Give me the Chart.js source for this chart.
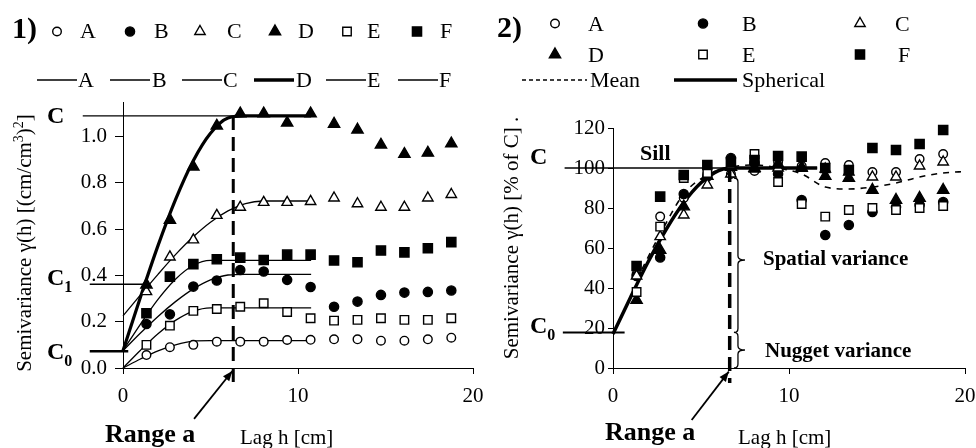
<!DOCTYPE html>
<html>
<head>
<meta charset="utf-8">
<script src="https://cdn.jsdelivr.net/npm/chart.js@4.4.1/dist/chart.umd.min.js"></script>
<style>
  html, body { margin: 0; padding: 0; background: #fff; }
  #wrap { position: relative; width: 976px; height: 448px; overflow: hidden;
          font-family: "Liberation Serif", "Times New Roman", serif; color: #000; }
  .box { position: absolute; top: 0; height: 448px; }
  .t { position: absolute; white-space: nowrap; line-height: 1; transform: translateY(-50%); font-size: 22px; }
  .b { font-weight: bold; }
  .rot { position: absolute; white-space: nowrap; line-height: 1; font-size: 21px;
         transform: translate(-50%, -50%) rotate(-90deg); }
  .sub { font-size: 16px; position: relative; top: 7px; }
  .sup { font-size: 14px; position: relative; top: -8px; }
</style>
</head>
<body>
<div id="wrap">
  <div class="box" style="left:0;width:500px"><canvas id="c1" width="500" height="448"></canvas></div>
  <div class="box" style="left:480px;width:496px"><canvas id="c2" width="496" height="448"></canvas></div>

  <!-- panel 1 texts -->
  <div class="t b" style="left:12px;top:28px;font-size:30px">1)</div>
  <div class="t" style="left:80px;top:31px">A</div>
  <div class="t" style="left:154px;top:31px">B</div>
  <div class="t" style="left:227px;top:31px">C</div>
  <div class="t" style="left:298px;top:31px">D</div>
  <div class="t" style="left:367px;top:31px">E</div>
  <div class="t" style="left:440px;top:31px">F</div>
  <div class="t" style="left:78px;top:80px">A</div>
  <div class="t" style="left:152px;top:80px">B</div>
  <div class="t" style="left:223px;top:80px">C</div>
  <div class="t" style="left:296px;top:80px">D</div>
  <div class="t" style="left:367px;top:80px">E</div>
  <div class="t" style="left:439px;top:80px">F</div>
  <div class="t b" style="left:47px;top:115px;font-size:24px">C</div>
  <div class="t b" style="left:47px;top:277px;font-size:24px">C<span class="sub">1</span></div>
  <div class="t b" style="left:47px;top:351px;font-size:24px">C<span class="sub">0</span></div>
  <div class="rot" style="left:24px;top:243px">Semivariance γ(h) [(cm/cm<span class="sup">3</span>)<span class="sup">2</span>]</div>
  <div class="t b" style="left:105px;top:434px;font-size:26px">Range a</div>
  <div class="t" style="left:240px;top:437px;font-size:21px">Lag h [cm]</div>

  <!-- panel 2 texts -->
  <div class="t b" style="left:497px;top:27px;font-size:30px">2)</div>
  <div class="t" style="left:588px;top:24px">A</div>
  <div class="t" style="left:742px;top:24px">B</div>
  <div class="t" style="left:895px;top:24px">C</div>
  <div class="t" style="left:588px;top:55px">D</div>
  <div class="t" style="left:742px;top:55px">E</div>
  <div class="t" style="left:898px;top:55px">F</div>
  <div class="t" style="left:590px;top:80px">Mean</div>
  <div class="t" style="left:742px;top:80px">Spherical</div>
  <div class="t b" style="left:530px;top:156px;font-size:24px">C</div>
  <div class="t b" style="left:640px;top:153px">Sill</div>
  <div class="t b" style="left:530px;top:325px;font-size:24px">C<span class="sub">0</span></div>
  <div class="t b" style="left:763px;top:258px;font-size:21px">Spatial variance</div>
  <div class="t b" style="left:765px;top:350px;font-size:21px">Nugget variance</div>
  <div class="rot" style="left:511px;top:238px">Semivariance γ(h) [% of C] .</div>
  <div class="t b" style="left:605px;top:432px;font-size:26px">Range a</div>
  <div class="t" style="left:738px;top:437px;font-size:21px">Lag h [cm]</div>
</div>

<script>
// lag classes [cm]
const lags = [1.34, 2.68, 4.02, 5.36, 6.7, 8.04, 9.38, 10.72, 12.06, 13.4, 14.74, 16.08, 17.42, 18.76];
const seriesNames = ["A", "B", "C", "D", "E", "F"];

// panel 1: experimental semivariance [(cm/cm3)^2]
const gammaA = [0.056, 0.09, 0.10, 0.114, 0.114, 0.114, 0.121, 0.122, 0.124, 0.124, 0.118, 0.118, 0.124, 0.131];
const gammaB = [0.19, 0.232, 0.352, 0.378, 0.424, 0.417, 0.381, 0.35, 0.265, 0.287, 0.316, 0.326, 0.329, 0.335];
const gammaC = [0.33, 0.48, 0.554, 0.66, 0.695, 0.716, 0.716, 0.72, 0.735, 0.71, 0.695, 0.695, 0.735, 0.75];
const gammaD = [0.36, 0.64, 0.87, 1.047, 1.10, 1.10, 1.06, 1.10, 1.055, 1.03, 0.965, 0.925, 0.93, 0.97];
const gammaE = [0.10, 0.183, 0.247, 0.255, 0.265, 0.28, 0.242, 0.215, 0.205, 0.208, 0.215, 0.208, 0.208, 0.215];
const gammaF = [0.237, 0.395, 0.449, 0.47, 0.477, 0.467, 0.49, 0.49, 0.465, 0.457, 0.508, 0.50, 0.518, 0.544];

// panel 1: fitted model lines, read at these lags
const fitLags = [0, 1, 2, 3, 4, 5, 6, 7, 8, 10.75];
const fitA = [0, 0.039, 0.074, 0.10, 0.116, 0.118, 0.118, 0.118, 0.118, 0.118];
const fitB = [0.075, 0.151, 0.223, 0.287, 0.341, 0.381, 0.402, 0.405, 0.405, 0.405];
const fitC = [0.225, 0.316, 0.405, 0.49, 0.566, 0.63, 0.679, 0.711, 0.722, 0.722];
const fitD = [0.075, 0.307, 0.529, 0.728, 0.894, 1.015, 1.081, 1.09, 1.09, 1.09];
const fitE = [0, 0.077, 0.148, 0.206, 0.245, 0.26, 0.26, 0.26, 0.26, 0.26];
const fitF = [0.075, 0.19, 0.297, 0.384, 0.443, 0.465, 0.465, 0.465, 0.465, 0.465];

// panel 1: model parameters shown on the plot
const sill1 = 1.09, c1Level = 0.362, nugget1 = 0.072, range1 = 6.3;

// panel 2: semivariance in % of sill
const pctA = [47, 75.7, 85, 97, 97, 98.5, 103, 101, 102.5, 101.5, 98, 98, 104.5, 107];
const pctB = [46, 55.3, 87, 95.7, 105, 102.5, 97, 84, 66.5, 71.5, 78, 80.5, 81.5, 83];
const pctC = [46, 65.7, 76.5, 91.5, 97, 99.5, 100, 100.5, 99.5, 98, 95.5, 95.5, 101, 103];
const pctD = [34, 59, 80.7, 96, 100.5, 100, 102, 100, 96, 95, 89, 84, 85, 89];
const pctE = [38, 70.7, 95, 97.5, 102, 107, 93, 82, 75.7, 79, 80, 79, 80, 81];
const pctF = [51, 85.7, 96.5, 101.5, 103, 104, 106, 105.7, 100, 99, 110, 109, 112, 119];
const meanLags = [1.34, 2.68, 4.02, 5.36, 6.7, 8.04, 9.38, 10.72, 12.06, 13.4, 14.74, 16.08, 17.42, 18.76, 20.1];
const pctMean = [44, 67, 87, 96.5, 100.5, 101.5, 100, 97, 90.5, 89.5, 90.5, 92.5, 95.5, 97.5, 98.3];
const sphLags = [0, 1, 2, 3, 4, 5, 6, 6.7, 11.6];
const pctSpherical = [17, 35.4, 53.1, 69, 82.5, 92.6, 98.7, 100, 100];
const sill2 = 100, nugget2 = 17.8, range2 = 6.63;

const xTicks = [0, 10, 20];
const yTicks1 = [0, 0.2, 0.4, 0.6, 0.8, 1.0];
const yTicks2 = [0, 20, 40, 60, 80, 100, 120];

const FONT = "'Liberation Serif', 'Times New Roman', serif";
const markers = [
  { style: "circle", r: 4.3, filled: false },
  { style: "circle", r: 4.6, filled: true },
  { style: "triangle", r: 6, filled: false },
  { style: "triangle", r: 6.5, filled: true },
  { style: "rect", r: 6, filled: false },
  { style: "rect", r: 6.5, filled: true },
];

function pts(xs, ys) {
  return xs.map((x, i) => ({ x: x, y: ys[i] }));
}

function markerSet(name, i, vals) {
  const m = markers[i];
  return {
    label: name, data: pts(lags, vals), showLine: false,
    pointStyle: m.style, pointRadius: m.r, pointBorderWidth: 1.4,
    pointBorderColor: "#000", pointBackgroundColor: m.filled ? "#000" : "#fff",
    order: 10 - i, clip: false,
  };
}

function lineSet(name, xs, ys, width, dash) {
  return {
    label: name, data: pts(xs, ys), showLine: true, pointRadius: 0,
    borderColor: "#000", borderWidth: width, borderDash: dash || [],
    cubicInterpolationMode: "monotone", order: 30, clip: false,
  };
}

function axes(yMax, yTicks, fmt, yWidth, yTickLen, yPad) {
  return {
    x: {
      type: "linear", min: 0, max: 20,
      afterBuildTicks: (s) => { s.ticks = xTicks.map((v) => ({ value: v })); },
      afterFit: (s) => { s.height = 80; s.paddingLeft = 0; s.paddingRight = 0; },
      grid: { drawOnChartArea: false, tickLength: 6, color: "#000", lineWidth: 1 },
      border: { color: "#000", width: 1 },
      ticks: { color: "#000", font: { family: FONT, size: 21 }, padding: 10, maxRotation: 0 },
    },
    y: {
      type: "linear", min: 0, max: yMax,
      afterBuildTicks: (s) => { s.ticks = yTicks.map((v) => ({ value: v })); },
      afterFit: (s) => { s.width = yWidth; s.paddingTop = 0; s.paddingBottom = 0; },
      grid: { drawOnChartArea: false, tickLength: yTickLen, color: "#000", lineWidth: 1 },
      border: { color: "#000", width: 1 },
      ticks: { color: "#000", font: { family: FONT, size: 21 }, padding: yPad, callback: fmt },
    },
  };
}

function drawMarker(ctx, m, x, y) {
  ctx.save();
  ctx.beginPath();
  if (m.style === "circle") {
    ctx.arc(x, y, m.r, 0, Math.PI * 2);
  } else if (m.style === "rect") {
    const s = Math.SQRT1_2 * m.r;
    ctx.rect(x - s, y - s, 2 * s, 2 * s);
  } else {
    let a = 0;
    for (let k = 0; k < 3; k++) {
      const px = x + Math.sin(a) * m.r, py = y - Math.cos(a) * m.r;
      if (k === 0) ctx.moveTo(px, py); else ctx.lineTo(px, py);
      a += (2 * Math.PI) / 3;
    }
    ctx.closePath();
  }
  ctx.fillStyle = m.filled ? "#000" : "#fff";
  ctx.strokeStyle = "#000";
  ctx.lineWidth = 1.4;
  ctx.fill();
  ctx.stroke();
  ctx.restore();
}

function seg(ctx, x1, y1, x2, y2, w, dash) {
  ctx.save();
  ctx.beginPath();
  ctx.strokeStyle = "#000";
  ctx.lineWidth = w;
  ctx.setLineDash(dash || []);
  ctx.moveTo(x1, y1);
  ctx.lineTo(x2, y2);
  ctx.stroke();
  ctx.restore();
}

function arrow(ctx, x1, y1, x2, y2) {
  seg(ctx, x1, y1, x2, y2, 1.8);
  const a = Math.atan2(y2 - y1, x2 - x1), len = 10, hw = 4;
  ctx.save();
  ctx.beginPath();
  ctx.moveTo(x2, y2);
  ctx.lineTo(x2 - len * Math.cos(a) + hw * Math.sin(a), y2 - len * Math.sin(a) - hw * Math.cos(a));
  ctx.lineTo(x2 - len * Math.cos(a) - hw * Math.sin(a), y2 - len * Math.sin(a) + hw * Math.cos(a));
  ctx.closePath();
  ctx.fillStyle = "#000";
  ctx.fill();
  ctx.restore();
}

function brace(ctx, x, yTop, yBot, yTip, w) {
  const r = 4;
  ctx.save();
  ctx.beginPath();
  ctx.strokeStyle = "#000";
  ctx.lineWidth = 1.3;
  ctx.moveTo(x - r, yTop);
  ctx.quadraticCurveTo(x, yTop, x, yTop + r);
  ctx.lineTo(x, yTip - r);
  ctx.quadraticCurveTo(x, yTip, x + w, yTip);
  ctx.quadraticCurveTo(x, yTip, x, yTip + r);
  ctx.lineTo(x, yBot - r);
  ctx.quadraticCurveTo(x, yBot, x - r, yBot);
  ctx.stroke();
  ctx.restore();
}

// panel 1 legend + annotations
const panel1Extras = {
  id: "panel1Extras",
  afterDatasetsDraw(chart) {
    const { ctx, scales: { x, y } } = chart;
    // C, C1, C0 guide lines
    seg(ctx, x.getPixelForValue(-2.3), y.getPixelForValue(sill1), x.getPixelForValue(10.75), y.getPixelForValue(sill1), 1.3);
    seg(ctx, x.getPixelForValue(-1.9), y.getPixelForValue(c1Level), x.getPixelForValue(1.3), y.getPixelForValue(c1Level), 1.3);
    seg(ctx, x.getPixelForValue(-1.9), y.getPixelForValue(nugget1), x.getPixelForValue(0.3), y.getPixelForValue(nugget1), 2.5);
    // range
    seg(ctx, x.getPixelForValue(range1), y.getPixelForValue(sill1), x.getPixelForValue(range1), y.getPixelForValue(-0.065), 3, [14, 7]);
    arrow(ctx, x.getPixelForValue(4.06), y.getPixelForValue(-0.22), x.getPixelForValue(range1 - 0.05), y.getPixelForValue(-0.013));
    // legend
    const mx = [57, 130, 200, 275, 347, 417];
    mx.forEach((px, i) => drawMarker(ctx, markers[i], px, 31.5));
    const lx = [37, 110, 182, 254, 326, 398];
    lx.forEach((px, i) => seg(ctx, px, 80, px + 40, 80, i === 3 ? 3.5 : 1.3));
  },
};

// panel 2 legend + annotations
const panel2Extras = {
  id: "panel2Extras",
  afterDatasetsDraw(chart) {
    const { ctx, scales: { x, y } } = chart;
    seg(ctx, x.getPixelForValue(-2.75), y.getPixelForValue(sill2), x.getPixelForValue(11.6), y.getPixelForValue(sill2), 1.3);
    seg(ctx, x.getPixelForValue(-2.85), y.getPixelForValue(nugget2), x.getPixelForValue(0.66), y.getPixelForValue(nugget2), 2);
    seg(ctx, x.getPixelForValue(range2), y.getPixelForValue(sill2), x.getPixelForValue(range2), y.getPixelForValue(-7.5), 3.5, [14, 7]);
    const bx = x.getPixelForValue(7.1);
    brace(ctx, bx, y.getPixelForValue(95), y.getPixelForValue(nugget2), y.getPixelForValue(54), 7);
    brace(ctx, bx, y.getPixelForValue(nugget2), y.getPixelForValue(0), y.getPixelForValue(9), 7);
    arrow(ctx, x.getPixelForValue(4.47), y.getPixelForValue(-26), x.getPixelForValue(range2 - 0.05), y.getPixelForValue(-1.8));
    // legend
    const mx = [75, 223, 380];
    mx.forEach((px, i) => {
      drawMarker(ctx, markers[i], px, 23.5);
      drawMarker(ctx, markers[i + 3], px, 54.5);
    });
    seg(ctx, 42, 80, 107, 80, 1.5, [4, 3]);
    seg(ctx, 194, 80, 257, 80, 3.5);
  },
};

const common = {
  responsive: false, animation: false, events: [],
  plugins: { legend: { display: false }, tooltip: { enabled: false } },
};

const gamma = [gammaA, gammaB, gammaC, gammaD, gammaE, gammaF];
const fits = [fitA, fitB, fitC, fitD, fitE, fitF];
const ds1 = gamma.map((v, i) => markerSet(seriesNames[i], i, v));
fits.forEach((f, i) => ds1.push(lineSet("fit " + seriesNames[i], fitLags, f, i === 3 ? 3.2 : 1.3)));

new Chart(document.getElementById("c1"), {
  type: "scatter",
  data: { datasets: ds1 },
  options: Object.assign({}, common, {
    layout: { padding: { top: 102, right: 27, left: 0, bottom: 0 } },
    scales: axes(1.15, yTicks1, (v) => v.toFixed(1), 123, 8, 8),
  }),
  plugins: [panel1Extras],
});

const pct = [pctA, pctB, pctC, pctD, pctE, pctF];
const ds2 = pct.map((v, i) => markerSet(seriesNames[i], i, v));
ds2.push(lineSet("Mean", meanLags, pctMean, 1.6, [6, 6]));
ds2.push(lineSet("Spherical", sphLags, pctSpherical, 3.5));

new Chart(document.getElementById("c2"), {
  type: "scatter",
  data: { datasets: ds2 },
  options: Object.assign({}, common, {
    layout: { padding: { top: 128, right: 11, left: 0, bottom: 0 } },
    scales: axes(120, yTicks2, (v) => String(v), 133, 5, 3),
  }),
  plugins: [panel2Extras],
});
</script>
</body>
</html>
